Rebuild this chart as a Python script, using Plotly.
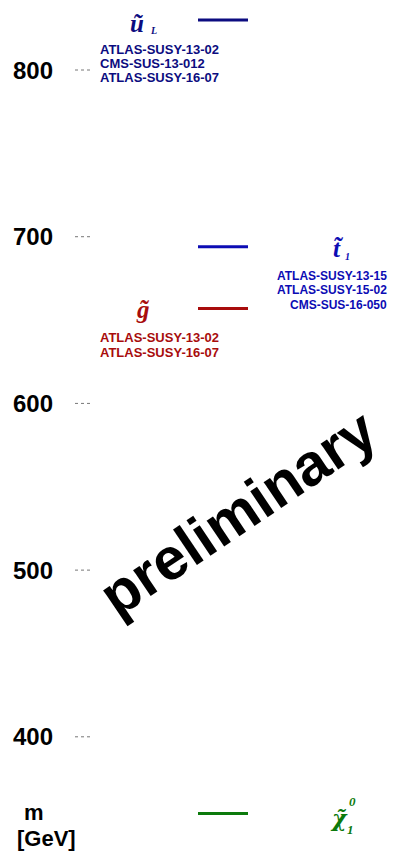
import plotly.graph_objects as go

# Mass spectrum (GeV)
particles = ["u_L", "t1", "gluino", "chi10"]
masses = [830, 694, 657, 354]
colors = ["#0c0c80", "#0c0cb4", "#a80c0c", "#0c7a0c"]

sources_uL = ["ATLAS-SUSY-13-02", "CMS-SUS-13-012", "ATLAS-SUSY-16-07"]
sources_t1 = ["ATLAS-SUSY-13-15", "ATLAS-SUSY-15-02", "CMS-SUS-16-050"]
sources_gl = ["ATLAS-SUSY-13-02", "ATLAS-SUSY-16-07"]

tick_values = [400, 500, 600, 700, 800]
tick_labels = ["400", "500", "600", "700", "800"]

W, H = 401, 851
Y_RANGE = [331.5, 842]

SANS = "Liberation Sans, Arial, sans-serif"
SERIF = "Liberation Serif, Times New Roman, serif"
DSERIF = "DejaVu Serif, serif"

fig = go.Figure()

# mass levels
for name, m, c in zip(particles, masses, colors):
    fig.add_trace(go.Scatter(
        x=[198, 248], y=[m, m], mode="lines",
        line=dict(color=c, width=3), hoverinfo="skip", showlegend=False))

# dotted tick marks
for v in tick_values:
    fig.add_trace(go.Scatter(
        x=[75, 93], y=[v, v], mode="lines",
        line=dict(color="#777777", width=1, dash="dot"),
        hoverinfo="skip", showlegend=False))

ann = []

# tick labels
for v, t in zip(tick_values, tick_labels):
    ann.append(dict(x=55, y=v, text=t, xanchor="right", yanchor="middle",
                    font=dict(family=SANS, size=24, color="black", weight="bold")))

# axis title
ann.append(dict(x=34 / W, y=1 - 812 / H, xref="paper", yref="paper", text="m",
                xanchor="center", yanchor="middle",
                font=dict(family=SANS, size=22, color="black", weight="bold")))
ann.append(dict(x=46 / W, y=1 - 838 / H, xref="paper", yref="paper", text="[GeV]",
                xanchor="center", yanchor="middle",
                font=dict(family=SANS, size=22, color="black", weight="bold")))


def name_font(c, size=25, family=SERIF):
    return dict(family=family, size=size, color=c, weight="bold", style="italic")


def src_font(c, size=13):
    return dict(family=SANS, size=size, color=c, weight="bold")


m_uL, m_t1, m_gl, m_chi = masses
c_uL, c_t1, c_gl, c_chi = colors

# u_L
ann.append(dict(x=137, y=m_uL, yshift=-3, text="u\u0303", xanchor="center", yanchor="middle",
                font=name_font(c_uL)))
ann.append(dict(x=148, y=m_uL, yshift=-10, text="L", xanchor="left", yanchor="middle",
                font=name_font(c_uL, 10)))
for i, s in enumerate(sources_uL):
    ann.append(dict(x=98, y=m_uL, yshift=-29.5 - 14 * i, text=s, xanchor="left",
                    yanchor="middle", font=src_font(c_uL)))

# stop
ann.append(dict(x=338, y=m_t1, yshift=-2, text="t\u0303", xanchor="center", yanchor="middle",
                font=name_font(c_t1)))
ann.append(dict(x=343, y=m_t1, yshift=-10, text="1", xanchor="left", yanchor="middle",
                font=name_font(c_t1, 10)))
for i, s in enumerate(sources_t1):
    ann.append(dict(x=389, y=m_t1, yshift=-29 - 14.5 * i, text=s, xanchor="right",
                    yanchor="middle", font=src_font(c_t1, 12)))

# gluino
ann.append(dict(x=143, y=m_gl, yshift=-1, text="g\u0303", xanchor="center", yanchor="middle",
                font=name_font(c_gl)))
for i, s in enumerate(sources_gl):
    ann.append(dict(x=98, y=m_gl, yshift=-29.5 - 15 * i, text=s, xanchor="left",
                    yanchor="middle", font=src_font(c_gl)))

# neutralino
ann.append(dict(x=339, y=m_chi, yshift=-5, text="\u03c7\u0303", xanchor="center",
                yanchor="middle", font=name_font(c_chi, 22, DSERIF)))
ann.append(dict(x=347, y=m_chi, yshift=12, text="0", xanchor="left", yanchor="middle",
                font=name_font(c_chi, 13)))
ann.append(dict(x=345, y=m_chi, yshift=-16, text="1", xanchor="left", yanchor="middle",
                font=name_font(c_chi, 13)))

# watermark
ann.append(dict(x=238 / W, y=1 - 513 / H, xref="paper", yref="paper", text="preliminary",
                textangle=-34, xanchor="center", yanchor="middle",
                font=dict(family=SANS, size=59, color="black", weight="bold")))

for a in ann:
    a.setdefault("xref", "x")
    a.setdefault("yref", "y")
    a["showarrow"] = False

fig.update_layout(
    width=W, height=H,
    margin=dict(l=0, r=0, t=0, b=0),
    paper_bgcolor="white", plot_bgcolor="white",
    xaxis=dict(range=[0, W], visible=False, fixedrange=True),
    yaxis=dict(range=Y_RANGE, visible=False, fixedrange=True),
    annotations=ann,
    showlegend=False,
)

fig.write_html("out.html", config={"displayModeBar": False})
